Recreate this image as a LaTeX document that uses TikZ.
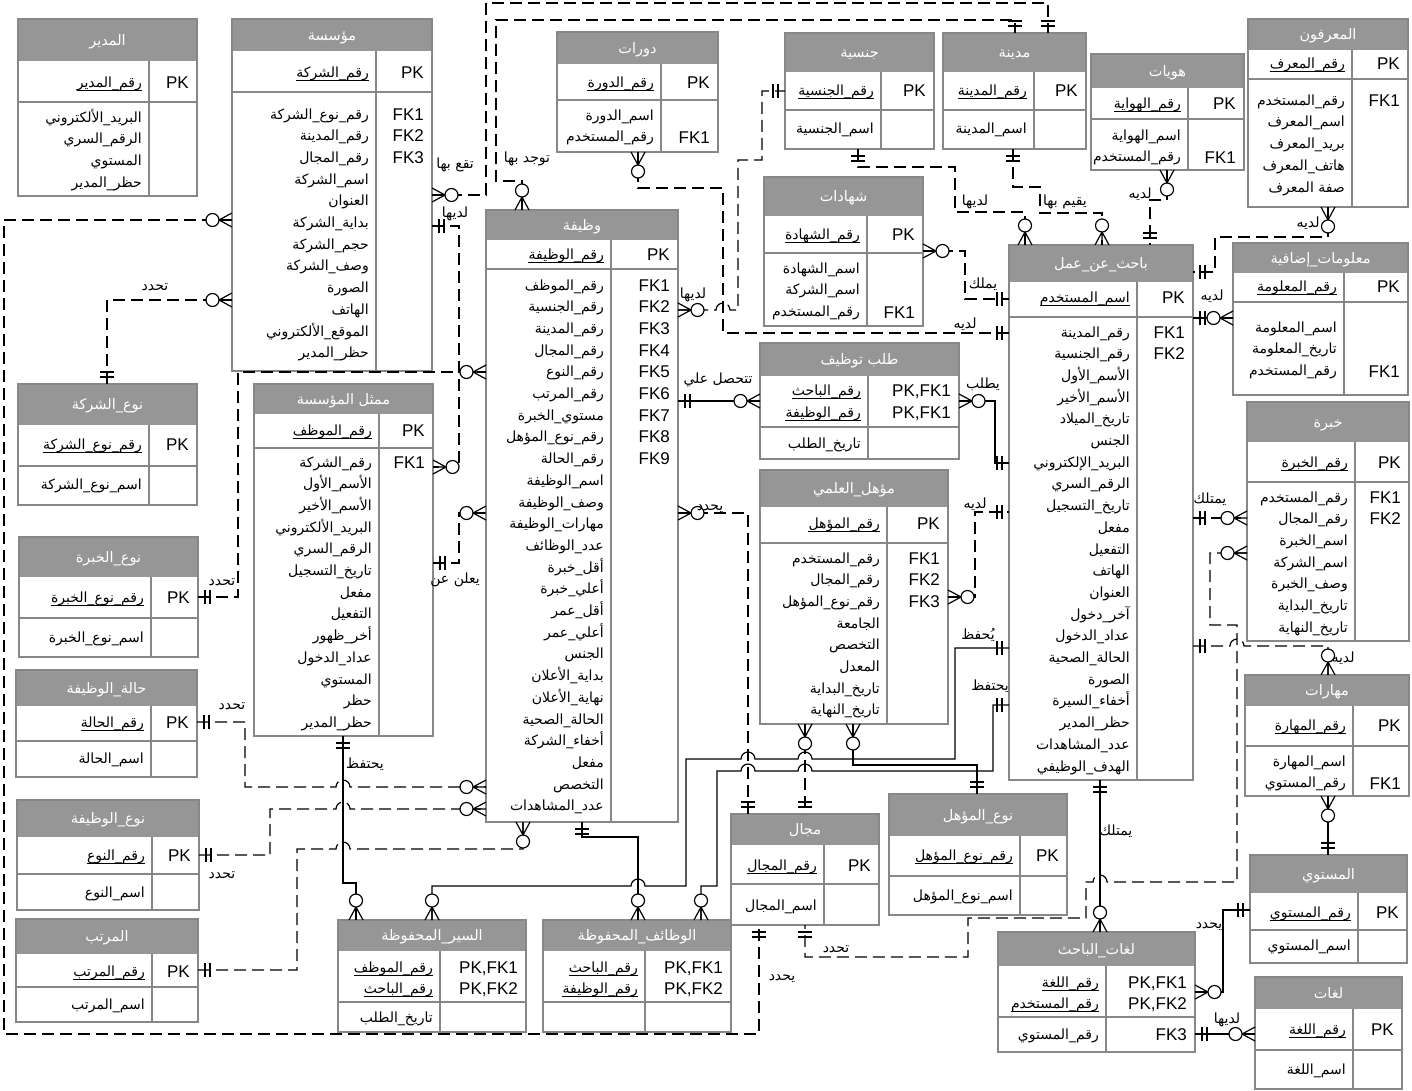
\documentclass[tikz,border=0pt]{standalone}
\usepackage{fontspec}
\setmainfont{Liberation Sans}
\newfontfamily\arabicfont[Script=Arabic]{DejaVu Sans}
\TeXXeTstate=1
\definecolor{hdrgray}{RGB}{150,150,150}
\definecolor{boxgray}{RGB}{135,135,135}
\newcommand{\AR}[1]{\beginR #1\endR}
\newcommand{\arfont}{\arabicfont\fontsize{14}{16}\selectfont}
\newcommand{\ttlfont}{\arabicfont\fontsize{14.5}{16}\selectfont}
\newcommand{\latfont}{\fontsize{17}{20}\selectfont}
\tikzset{
  box/.style={draw=boxgray, line width=1.3pt, inner sep=0pt, outer sep=0pt},
  sep/.style={draw=boxgray, line width=1.1pt},
  atr/.style={anchor=base east, inner sep=0pt, font=\arfont},
  key/.style={anchor=base east, inner sep=0pt, font=\latfont},
  ttl/.style={anchor=base, inner sep=0pt, font=\ttlfont, text=white},
  uline/.style={draw=black, line width=0.8pt},
  rel/.style={draw=black, line width=1.2pt},
  reld/.style={rel, dash pattern=on 12pt off 6pt},
  lbl/.style={anchor=base, inner sep=0pt, font=\arfont},
  crow/.pic={\draw[line width=1.2pt] (-13pt,0pt) -- (0pt,7pt) (-13pt,0pt) -- (0pt,-7pt) (-13pt,0pt) -- (0pt,0pt);
             \draw[line width=1.2pt, fill=white] (-19.5pt,0pt) circle[radius=6.5pt];},
  one/.pic={\draw[line width=1.2pt] (-7pt,7pt) -- (-7pt,-7pt) (-12pt,7pt) -- (-12pt,-7pt);},
}
% title text is given already wrapped in \beginR ... \endR
\newcommand{\mktbl}[9]{%
  \fill[hdrgray] (#2,#3) rectangle (#4,#6);
  \draw[sep] (#2,#7) -- (#4,#7);
  \draw[sep] (#8,#6) -- (#8,#5);
  \node[box, anchor=north west, minimum width={#4pt-#2pt}, minimum height={#5pt-#3pt}] (#1) at (#2,#3) {};
  \node[ttl] (#1-t) at ({(#2+#4)/2},{(#3+#6)/2+5}) {#9};
}
\newcommand{\tat}[4]{\node[atr] (#1) at ({#2-7},{#3+5}) {\AR{#4}};}
\newcommand{\tatu}[4]{\tat{#1}{#2}{#3}{#4}\draw[uline] ([yshift=-3pt]#1.base west) -- ([yshift=-3pt]#1.base east);}
\newcommand{\tky}[4]{\node[key] (#1) at ({#2-8},{#3+6}) {#4};}
\newcommand{\tattrs}[4]{\foreach \t [count=\i] in {#4} {\node[atr] (#1-a\i) at ({#2-7},{#3+(\i-1)*21.7+5}) {\AR{\t}};}}
\newcommand{\tkeys}[4]{\foreach \k [count=\i] in {#4} {\node[key] (#1-k\i) at ({#2-8},{#3+(\i-1)*21.7+6}) {\k};}}
\begin{document}
\begin{tikzpicture}[x=1pt,y=-1pt]
\path[fill=white, use as bounding box] (0,0) rectangle (1412,1090);

% ---------- tables ----------
\mktbl{mud}{18}{19}{197}{196}{61}{102}{149}{\beginR المدير\endR}
\tatu{mud-p}{149}{82}{رقم\_المدير}\tky{mud-pk}{197}{82}{PK}
\tattrs{mud}{149}{117}{البريد\_الألكتروني,الرقم\_السري,المستوي,حظر\_المدير}

\mktbl{mua}{232}{19}{432}{371}{51}{92}{376}{\beginR مؤسسة\endR}
\tatu{mua-p}{376}{72}{رقم\_الشركة}\tky{mua-pk}{432}{72}{PK}
\tattrs{mua}{376}{114}{رقم\_نوع\_الشركة,رقم\_المدينة,رقم\_المجال,اسم\_الشركة,العنوان,بداية\_الشركة,حجم\_الشركة,وصف\_الشركة,الصورة,الهاتف,الموقع\_الألكتروني,حظر\_المدير}
\tkeys{mua}{432}{114}{FK1,FK2,FK3}

\mktbl{dwr}{557}{32}{718}{152}{64}{100}{661}{\beginR دورات\endR}
\tatu{dwr-p}{661}{82}{رقم\_الدورة}\tky{dwr-pk}{718}{82}{PK}
\tattrs{dwr}{661}{115}{اسم\_الدورة,رقم\_المستخدم}
\tky{dwr-k1}{718}{137}{FK1}

\mktbl{waz}{486}{210}{678}{822}{240}{269}{611}{\beginR وظيفة\endR}
\tatu{waz-p}{611}{254}{رقم\_الوظيفة}\tky{waz-pk}{678}{254}{PK}
\tattrs{waz}{611}{285}{رقم\_الموظف,رقم\_الجنسية,رقم\_المدينة,رقم\_المجال,رقم\_النوع,رقم\_المرتب,مستوي\_الخبرة,رقم\_نوع\_المؤهل,رقم\_الحالة,اسم\_الوظيفة,وصف\_الوظيفة,مهارات\_الوظيفة,عدد\_الوظائف,أقل\_خبرة,أعلي\_خبرة,أقل\_عمر,أعلي\_عمر,الجنس,بداية\_الأعلان,نهاية\_الأعلان,الحالة\_الصحية,أخفاء\_الشركة,مفعل,التخصص,عدد\_المشاهدات}
\tkeys{waz}{678}{285}{FK1,FK2,FK3,FK4,FK5,FK6,FK7,FK8,FK9}

\mktbl{jns}{785}{33}{934}{149}{72}{110}{881}{\beginR جنسية\endR}
\tatu{jns-p}{881}{90}{رقم\_الجنسية}\tky{jns-pk}{934}{90}{PK}
\tat{jns-a1}{881}{128}{اسم\_الجنسية}

\mktbl{mad}{943}{33}{1086}{149}{72}{110}{1034}{\beginR مدينة\endR}
\tatu{mad-p}{1034}{90}{رقم\_المدينة}\tky{mad-pk}{1086}{90}{PK}
\tat{mad-a1}{1034}{128}{اسم\_المدينة}

\mktbl{hwy}{1091}{54}{1244}{170}{88}{119}{1188}{\beginR هويات\endR}
\tatu{hwy-p}{1188}{103}{رقم\_الهواية}\tky{hwy-pk}{1244}{103}{PK}
\tattrs{hwy}{1188}{135}{اسم\_الهواية,رقم\_المستخدم}
\tky{hwy-k1}{1244}{157}{FK1}

\mktbl{mrf}{1248}{19}{1408}{207}{50}{79}{1352}{\beginR المعرفون\endR}
\tatu{mrf-p}{1352}{63}{رقم\_المعرف}\tky{mrf-pk}{1408}{63}{PK}
\tattrs{mrf}{1352}{100}{رقم\_المستخدم,اسم\_المعرف,بريد\_المعرف,هاتف\_المعرف}
\node[atr] (mrf-a5) at (1345,192) {\beginR صفة المعرف\endR};
\tky{mrf-k1}{1408}{100}{FK1}

\mktbl{mal}{1233}{243}{1408}{395}{273}{302}{1344}{\beginR معلومات\_إضافية\endR}
\tatu{mal-p}{1344}{286}{رقم\_المعلومة}\tky{mal-pk}{1408}{286}{PK}
\tattrs{mal}{1344}{327}{اسم\_المعلومة,تاريخ\_المعلومة,رقم\_المستخدم}
\tky{mal-k1}{1408}{371}{FK1}

\mktbl{bah}{1009}{245}{1193}{780}{282}{317}{1137}{\beginR باحث\_عن\_عمل\endR}
\tatu{bah-p}{1137}{297}{اسم\_المستخدم}\tky{bah-pk}{1193}{297}{PK}
\tattrs{bah}{1137}{332}{رقم\_المدينة,رقم\_الجنسية,الأسم\_الأول,الأسم\_الأخير,تاريخ\_الميلاد,الجنس,البريد\_الإلكتروني,الرقم\_السري,تاريخ\_التسجيل,مفعل,التفعيل,الهاتف,العنوان,آخر\_دخول,عداد\_الدخول,الحالة\_الصحية,الصورة,أخفاء\_السيرة,حظر\_المدير,عدد\_المشاهدات,الهدف\_الوظيفي}
\tkeys{bah}{1193}{332}{FK1,FK2}

\mktbl{shd}{764}{177}{923}{326}{216}{253}{867}{\beginR شهادات\endR}
\tatu{shd-p}{867}{234}{رقم\_الشهادة}\tky{shd-pk}{923}{234}{PK}
\tattrs{shd}{867}{268}{اسم\_الشهادة,اسم\_الشركة,رقم\_المستخدم}
\tky{shd-k1}{923}{312}{FK1}

\mktbl{tlb}{760}{343}{959}{459}{376}{427}{868}{\beginR طلب توظيف\endR}
\tatu{tlb-p1}{868}{390}{رقم\_الباحث}\tky{tlb-k1}{959}{390}{PK,FK1}
\tatu{tlb-p2}{868}{412}{رقم\_الوظيفة}\tky{tlb-k2}{959}{412}{PK,FK1}
\tat{tlb-a1}{868}{443}{تاريخ\_الطلب}

\mktbl{muh}{760}{470}{948}{724}{507}{543}{887}{\beginR مؤهل\_العلمي\endR}
\tatu{muh-p}{887}{523}{رقم\_المؤهل}\tky{muh-pk}{948}{523}{PK}
\tattrs{muh}{887}{558}{رقم\_المستخدم,رقم\_المجال,رقم\_نوع\_المؤهل,الجامعة,التخصص,المعدل,تاريخ\_البداية,تاريخ\_النهاية}
\tkeys{muh}{948}{558}{FK1,FK2,FK3}

\mktbl{khb}{1247}{402}{1409}{641}{442}{482}{1355}{\beginR خبرة\endR}
\tatu{khb-p}{1355}{462}{رقم\_الخبرة}\tky{khb-pk}{1409}{462}{PK}
\tattrs{khb}{1355}{497}{رقم\_المستخدم,رقم\_المجال,اسم\_الخبرة,اسم\_الشركة,وصف\_الخبرة,تاريخ\_البداية,تاريخ\_النهاية}
\tkeys{khb}{1409}{497}{FK1,FK2}

\mktbl{mhr}{1245}{675}{1409}{796}{706}{746}{1353}{\beginR مهارات\endR}
\tatu{mhr-p}{1353}{725}{رقم\_المهارة}\tky{mhr-pk}{1409}{725}{PK}
\tattrs{mhr}{1353}{761}{اسم\_المهارة,رقم\_المستوي}
\tky{mhr-k1}{1409}{783}{FK1}

\mktbl{mum}{254}{384}{433}{736}{414}{448}{379}{\beginR ممثل المؤسسة\endR}
\tatu{mum-p}{379}{430}{رقم\_الموظف}\tky{mum-pk}{433}{430}{PK}
\tattrs{mum}{379}{462}{رقم\_الشركة,الأسم\_الأول,الأسم\_الأخير,البريد\_الألكتروني,الرقم\_السري,تاريخ\_التسجيل,مفعل,التفعيل,أخر\_ظهور,عداد\_الدخول,المستوي,حظر,حظر\_المدير}
\tky{mum-k1}{433}{462}{FK1}

\mktbl{nsh}{18}{384}{197}{505}{425}{466}{149}{\beginR نوع\_الشركة\endR}
\tatu{nsh-p}{149}{444}{رقم\_نوع\_الشركة}\tky{nsh-pk}{197}{444}{PK}
\tat{nsh-a1}{149}{484}{اسم\_نوع\_الشركة}

\mktbl{nkh}{19}{537}{198}{657}{577}{618}{151}{\beginR نوع\_الخبرة\endR}
\tatu{nkh-p}{151}{597}{رقم\_نوع\_الخبرة}\tky{nkh-pk}{198}{597}{PK}
\tat{nkh-a1}{151}{637}{اسم\_نوع\_الخبرة}

\mktbl{hal}{16}{670}{197}{777}{706}{741}{151}{\beginR حالة\_الوظيفة\endR}
\tatu{hal-p}{151}{722}{رقم\_الحالة}\tky{hal-pk}{197}{722}{PK}
\tat{hal-a1}{151}{758}{اسم\_الحالة}

\mktbl{nwz}{17}{800}{199}{910}{837}{874}{152}{\beginR نوع\_الوظيفة\endR}
\tatu{nwz-p}{152}{855}{رقم\_النوع}\tky{nwz-pk}{199}{855}{PK}
\tat{nwz-a1}{152}{892}{اسم\_النوع}

\mktbl{mrt}{16}{919}{198}{1022}{954}{987}{152}{\beginR المرتب\endR}
\tatu{mrt-p}{152}{971}{رقم\_المرتب}\tky{mrt-pk}{198}{971}{PK}
\tat{mrt-a1}{152}{1004}{اسم\_المرتب}

\mktbl{sir}{338}{920}{526}{1032}{951}{1002}{440}{\beginR السير\_المحفوظة\endR}
\tatu{sir-p1}{440}{967}{رقم\_الموظف}\tky{sir-k1}{526}{967}{PK,FK1}
\tatu{sir-p2}{440}{988}{رقم\_الباحث}\tky{sir-k2}{526}{988}{PK,FK2}
\tat{sir-a1}{440}{1017}{تاريخ\_الطلب}

\mktbl{wmh}{543}{920}{731}{1032}{951}{1002}{645}{\beginR الوظائف\_المحفوظة\endR}
\tatu{wmh-p1}{645}{967}{رقم\_الباحث}\tky{wmh-k1}{731}{967}{PK,FK1}
\tatu{wmh-p2}{645}{988}{رقم\_الوظيفة}\tky{wmh-k2}{731}{988}{PK,FK2}

\mktbl{majal}{731}{814}{879}{925}{845}{884}{824}{\beginR مجال\endR}
\tatu{majal-p}{824}{865}{رقم\_المجال}\tky{majal-pk}{879}{865}{PK}
\tat{majal-a1}{824}{905}{اسم\_المجال}

\mktbl{nmh}{889}{794}{1067}{915}{836}{876}{1020}{\beginR نوع\_المؤهل\endR}
\tatu{nmh-p}{1020}{855}{رقم\_نوع\_المؤهل}\tky{nmh-pk}{1067}{855}{PK}
\tat{nmh-a1}{1020}{895}{اسم\_نوع\_المؤهل}

\mktbl{lbh}{998}{932}{1195}{1052}{966}{1017}{1106}{\beginR لغات\_الباحث\endR}
\tatu{lbh-p1}{1106}{982}{رقم\_اللغة}\tky{lbh-k1}{1195}{982}{PK,FK1}
\tatu{lbh-p2}{1106}{1003}{رقم\_المستخدم}\tky{lbh-k2}{1195}{1003}{PK,FK2}
\tat{lbh-a1}{1106}{1034}{رقم\_المستوي}\tky{lbh-k3}{1195}{1034}{FK3}

\mktbl{mst}{1250}{855}{1407}{963}{893}{930}{1358}{\beginR المستوي\endR}
\tatu{mst-p}{1358}{912}{رقم\_المستوي}\tky{mst-pk}{1407}{912}{PK}
\tat{mst-a1}{1358}{945}{اسم\_المستوي}

\mktbl{lgh}{1255}{977}{1402}{1089}{1009}{1050}{1353}{\beginR لغات\endR}
\tatu{lgh-p}{1353}{1029}{رقم\_اللغة}\tky{lgh-pk}{1402}{1029}{PK}
\tat{lgh-a1}{1353}{1069}{اسم\_اللغة}

% ---------- connectors ----------
\draw[reld] (107,0 |- nsh.north) -- (107,300) -- (mua.west |- 0,300);
\draw[reld] (mua.west |- 0,220) -- (4,220) -- (4,1034) -- (759,1034) -- (759,0 |- majal.south);
\draw[reld] (mua.east |- 0,195) -- (486,195) -- (486,3) -- (1048,3) -- (1048,0 |- mad.north);
\draw[reld] (522,0 |- waz.north) -- (522,181) -- (496,181) -- (496,20) -- (1015,20) -- (1015,0 |- mad.north);
\draw[reld] (mua.east |- 0,226) -- (459,226) -- (459,467) -- (mum.east |- 0,467);
\draw[reld] (nkh.east |- 0,597) -- (238,597) -- (238,372) -- (waz.west |- 0,372);
\draw[reld] (mum.east |- 0,563) -- (459,563) -- (459,513) -- (waz.west |- 0,513);
\draw[reld] (hal.east |- 0,722) -- (245,722) -- (245,787) -- (336,787) arc[start angle=180,end angle=0,radius=7pt] -- (waz.west |- 0,787);
\draw[reld] (nwz.east |- 0,855) -- (270,855) -- (270,809) -- (336,809) arc[start angle=180,end angle=0,radius=7pt] -- (waz.west |- 0,809);
\draw[reld] (mrt.east |- 0,970) -- (297,970) -- (297,849) -- (336,849) arc[start angle=180,end angle=0,radius=7pt] -- (523,849) -- (523,0 |- waz.south);
\draw[rel] (343,0 |- mum.south) -- (343,883) -- (356,883) -- (356,0 |- sir.north);
\draw[rel] (582,0 |- waz.south) -- (582,837) -- (638,837) -- (638,0 |- wmh.north);
\draw[rel] (bah.west |- 0,648) -- (955,648) -- (955,759) -- (812,759) arc[start angle=0,end angle=180,radius=7pt] -- (755,759) arc[start angle=0,end angle=180,radius=7pt] -- (686,759) -- (686,886) -- (645,886) arc[start angle=0,end angle=180,radius=7pt] -- (432,886) -- (432,0 |- sir.north);
\draw[rel] (bah.west |- 0,705) -- (993,705) -- (993,771) -- (812,771) arc[start angle=0,end angle=180,radius=7pt] -- (755,771) arc[start angle=0,end angle=180,radius=7pt] -- (717,771) -- (717,886) -- (701,886) -- (701,0 |- wmh.north);
\draw[rel] (853,0 |- muh.south) -- (853,765) -- (977,765) -- (977,0 |- nmh.north);
\draw[reld] (805,0 |- muh.south) -- (805,0 |- majal.north);
\draw[reld] (waz.east |- 0,513) -- (748,513) -- (748,0 |- majal.north);
\draw[rel] (waz.east |- 0,401) -- (tlb.west |- 0,401);
\draw[rel] (tlb.east |- 0,401) -- (995,401) -- (995,463) -- (bah.west |- 0,463);
\draw[reld] (muh.east |- 0,597) -- (975,597) -- (975,512) -- (bah.west |- 0,512);
\draw[reld] (638,0 |- dwr.south) -- (638,188) -- (723,188) -- (723,333) -- (bah.west |- 0,333);
\draw[reld] (waz.east |- 0,310) -- (716,310) arc[start angle=180,end angle=0,radius=7pt] -- (738,310) -- (738,160) -- (762,160) -- (762,91) -- (jns.west |- 0,91);
\draw[reld] (shd.east |- 0,251) -- (965,251) -- (965,299) -- (bah.west |- 0,299);
\draw[reld] (858,0 |- jns.south) -- (858,167) -- (955,167) -- (955,212) -- (1025,212) -- (1025,0 |- bah.north);
\draw[reld] (1013,0 |- mad.south) -- (1013,187) -- (1040,187) -- (1040,213) -- (1102,213) -- (1102,0 |- bah.north);
\draw[reld] (1167,0 |- hwy.south) -- (1167,200) -- (1150,200) -- (1150,0 |- bah.north);
\draw[reld] (1328,0 |- mrf.south) -- (1328,237) -- (1215,237) -- (1215,272) -- (bah.east |- 0,272);
\draw[rel] (mal.west |- 0,318) -- (bah.east |- 0,318);
\draw[reld] (bah.east |- 0,518) -- (khb.west |- 0,518);
\draw[reld] (khb.west |- 0,553) -- (1210,553) -- (1210,625) -- (1237,625) -- (1237,882) -- (1107,882) arc[start angle=0,end angle=180,radius=7pt] -- (1086,882) -- (1086,918) -- (968,918) -- (968,957) -- (805,957) -- (805,0 |- majal.south);
\draw[rel] (1100,0 |- bah.south) -- (1100,0 |- lbh.north);
\draw[reld] (bah.east |- 0,646) -- (1230,646) arc[start angle=180,end angle=0,radius=7pt] -- (1328,646) -- (1328,0 |- mhr.north);
\draw[rel] (1328,0 |- mhr.south) -- (1328,0 |- mst.north);
\draw[rel] (lbh.east |- 0,992) -- (1223,992) -- (1223,910) -- (mst.west |- 0,910);
\draw[rel] (lbh.east |- 0,1034) -- (lgh.west |- 0,1034);

% ---------- end symbols ----------
\pic at (mua.west |- 0,220) {crow};
\pic at (mua.west |- 0,300) {crow};
\pic[rotate=-90] at (107,0 |- nsh.north) {one};
\pic[rotate=90] at (759,0 |- majal.south) {one};
\pic[rotate=180] at (mua.east |- 0,195) {crow};
\pic[rotate=-90] at (1048,0 |- mad.north) {one};
\pic[rotate=-90] at (522,0 |- waz.north) {crow};
\pic[rotate=-90] at (1015,0 |- mad.north) {one};
\pic[rotate=180] at (mua.east |- 0,226) {one};
\pic[rotate=180] at (mum.east |- 0,467) {crow};
\pic[rotate=180] at (nkh.east |- 0,597) {one};
\pic at (waz.west |- 0,372) {crow};
\pic[rotate=180] at (mum.east |- 0,563) {one};
\pic at (waz.west |- 0,513) {crow};
\pic[rotate=180] at (hal.east |- 0,722) {one};
\pic at (waz.west |- 0,787) {crow};
\pic[rotate=180] at (nwz.east |- 0,855) {one};
\pic at (waz.west |- 0,809) {crow};
\pic[rotate=180] at (mrt.east |- 0,970) {one};
\pic[rotate=90] at (523,0 |- waz.south) {crow};
\pic[rotate=90] at (343,0 |- mum.south) {one};
\pic[rotate=-90] at (356,0 |- sir.north) {crow};
\pic[rotate=90] at (582,0 |- waz.south) {one};
\pic[rotate=-90] at (638,0 |- wmh.north) {crow};
\pic at (bah.west |- 0,648) {one};
\pic[rotate=-90] at (432,0 |- sir.north) {crow};
\pic at (bah.west |- 0,705) {one};
\pic[rotate=-90] at (701,0 |- wmh.north) {crow};
\pic[rotate=90] at (853,0 |- muh.south) {crow};
\pic[rotate=-90] at (977,0 |- nmh.north) {one};
\pic[rotate=90] at (805,0 |- muh.south) {crow};
\pic[rotate=-90] at (805,0 |- majal.north) {one};
\pic[rotate=180] at (waz.east |- 0,513) {crow};
\pic[rotate=-90] at (748,0 |- majal.north) {one};
\pic[rotate=180] at (waz.east |- 0,401) {one};
\pic at (tlb.west |- 0,401) {crow};
\pic[rotate=180] at (tlb.east |- 0,401) {crow};
\pic at (bah.west |- 0,463) {one};
\pic[rotate=180] at (muh.east |- 0,597) {crow};
\pic at (bah.west |- 0,512) {one};
\pic[rotate=90] at (638,0 |- dwr.south) {crow};
\pic at (bah.west |- 0,333) {one};
\pic[rotate=180] at (waz.east |- 0,310) {crow};
\pic at (jns.west |- 0,91) {one};
\pic[rotate=180] at (shd.east |- 0,251) {crow};
\pic at (bah.west |- 0,299) {one};
\pic[rotate=90] at (858,0 |- jns.south) {one};
\pic[rotate=-90] at (1025,0 |- bah.north) {crow};
\pic[rotate=90] at (1013,0 |- mad.south) {one};
\pic[rotate=-90] at (1102,0 |- bah.north) {crow};
\pic[rotate=90] at (1167,0 |- hwy.south) {crow};
\pic[rotate=-90] at (1150,0 |- bah.north) {one};
\pic[rotate=90] at (1328,0 |- mrf.south) {crow};
\pic[rotate=180] at (bah.east |- 0,272) {one};
\pic at (mal.west |- 0,318) {crow};
\pic[rotate=180] at (bah.east |- 0,318) {one};
\pic[rotate=180] at (bah.east |- 0,518) {one};
\pic at (khb.west |- 0,518) {crow};
\pic at (khb.west |- 0,553) {crow};
\pic[rotate=90] at (805,0 |- majal.south) {one};
\pic[rotate=90] at (1100,0 |- bah.south) {one};
\pic[rotate=-90] at (1100,0 |- lbh.north) {crow};
\pic[rotate=180] at (bah.east |- 0,646) {one};
\pic[rotate=-90] at (1328,0 |- mhr.north) {crow};
\pic[rotate=90] at (1328,0 |- mhr.south) {crow};
\pic[rotate=-90] at (1328,0 |- mst.north) {one};
\pic[rotate=180] at (lbh.east |- 0,992) {crow};
\pic at (mst.west |- 0,910) {one};
\pic[rotate=180] at (lbh.east |- 0,1034) {one};
\pic at (lgh.west |- 0,1034) {crow};

% ---------- relationship labels ----------
\node[lbl] (L1) at (155,290) {\beginR تحدد\endR};
\node[lbl] (L2) at (455,168) {\beginR تقع بها\endR};
\node[lbl] (L3) at (455,217) {\beginR لديها\endR};
\node[lbl] (L4) at (527,162) {\beginR توجد بها\endR};
\node[lbl] (L5) at (693,298) {\beginR لديها\endR};
\node[lbl] (L6) at (718,383) {\beginR تتحصل علي\endR};
\node[lbl] (L7) at (710,510) {\beginR يحدد\endR};
\node[lbl] (L8) at (455,583) {\beginR يعلن عن\endR};
\node[lbl] (L9) at (222,585) {\beginR تحدد\endR};
\node[lbl] (L10) at (232,709) {\beginR تحدد\endR};
\node[lbl] (L11) at (365,768) {\beginR يحتفظ\endR};
\node[lbl] (L12) at (222,878) {\beginR تحدد\endR};
\node[lbl] (L13) at (782,980) {\beginR يحدد\endR};
\node[lbl] (L14) at (836,952) {\beginR تحدد\endR};
\node[lbl] (L15) at (1116,835) {\beginR يمتلك\endR};
\node[lbl] (L16) at (1209,928) {\beginR يحدد\endR};
\node[lbl] (L17) at (1227,1023) {\beginR لديها\endR};
\node[lbl] (L18) at (1343,662) {\beginR لديه\endR};
\node[lbl] (L19) at (1210,503) {\beginR يمتلك\endR};
\node[lbl] (L20) at (1212,300) {\beginR لديه\endR};
\node[lbl] (L21) at (1308,227) {\beginR لديه\endR};
\node[lbl] (L22) at (1140,198) {\beginR لديه\endR};
\node[lbl] (L23) at (1065,205) {\beginR يقيم بها\endR};
\node[lbl] (L24) at (975,205) {\beginR لديها\endR};
\node[lbl] (L25) at (983,288) {\beginR يملك\endR};
\node[lbl] (L26) at (965,328) {\beginR لديه\endR};
\node[lbl] (L27) at (983,388) {\beginR يطلب\endR};
\node[lbl] (L28) at (975,508) {\beginR لديه\endR};
\node[lbl] (L29) at (978,639) {\beginR يُحفظ\endR};
\node[lbl] (L30) at (990,690) {\beginR يحتفظ\endR};
\end{tikzpicture}
\end{document}
